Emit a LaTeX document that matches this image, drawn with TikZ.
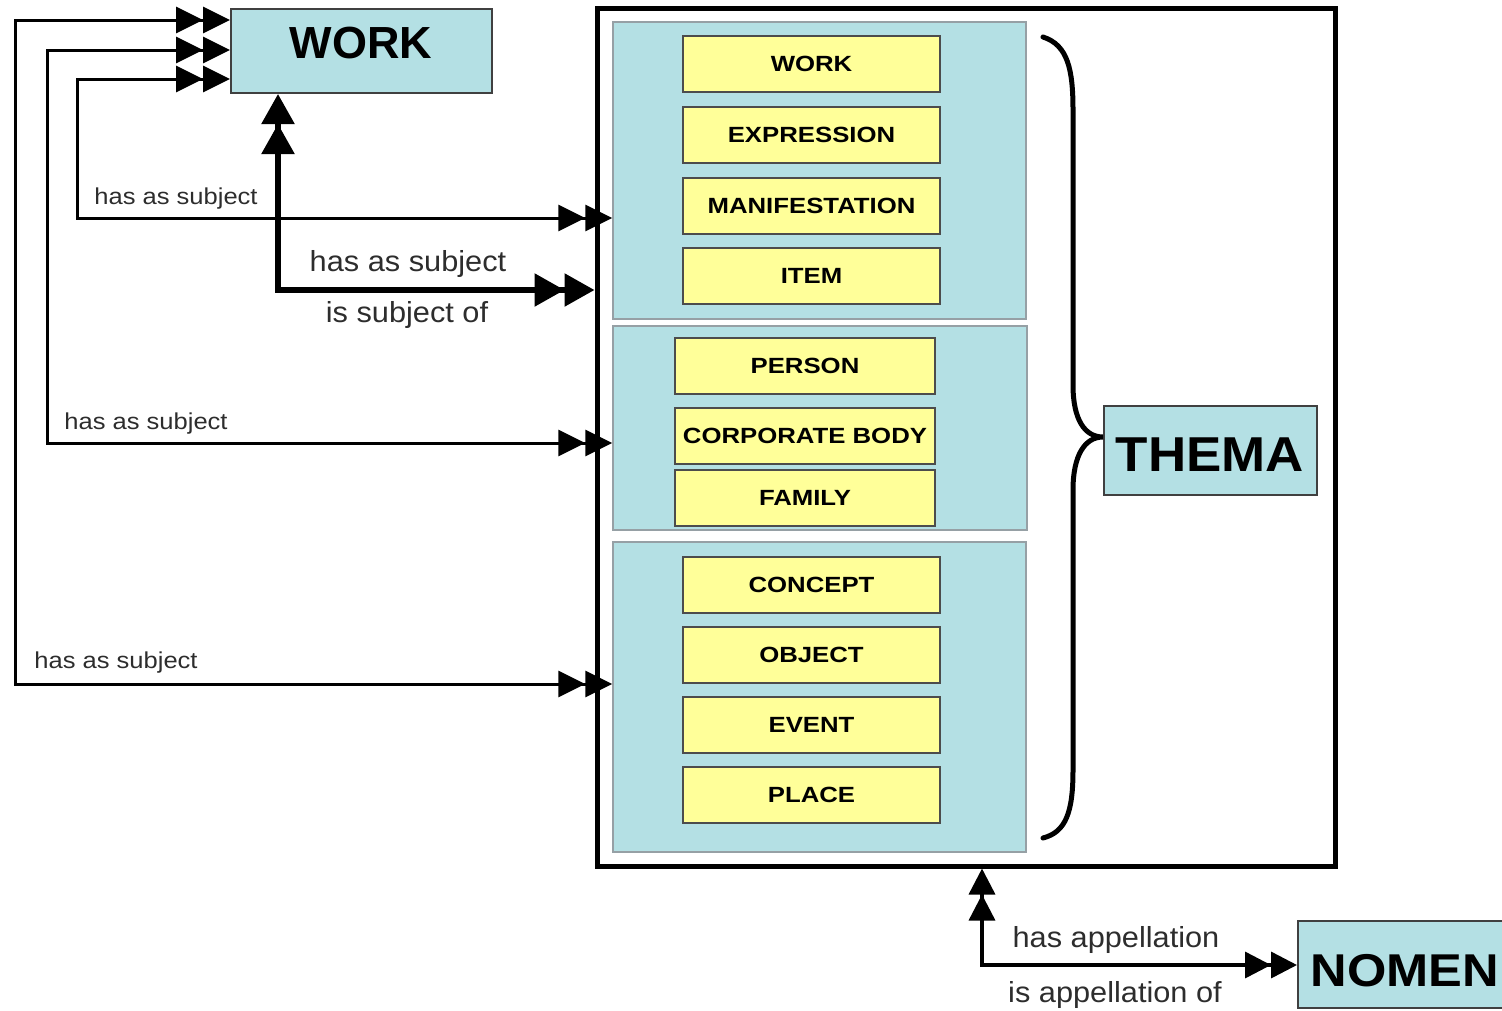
\documentclass[tikz,border=0pt]{standalone}
\usepackage{fontspec}
\usepackage{graphicx}
\setmainfont{Liberation Sans}
\usetikzlibrary{arrows.meta}
\definecolor{boxcyan}{RGB}{180,224,228}
\definecolor{boxyellow}{RGB}{255,255,153}
\definecolor{labelgray}{RGB}{45,45,45}
\definecolor{groupline}{RGB}{150,160,165}
\newcommand{\wx}[2]{\scalebox{#1}[1]{#2}}
\newcommand{\yt}[1]{\wx{1.17}{#1}}
\tikzset{
  tipA/.tip={Triangle[length=27pt,width=26pt] Triangle[length=27pt,width=26pt]},
  tipB/.tip={Triangle[length=30pt,width=32pt] Triangle[length=30pt,width=32pt]},
  tipC/.tip={Triangle[length=26pt,width=26pt] Triangle[length=26pt,width=26pt]},
  cyanbox/.style={draw=black!75, line width=2pt, fill=boxcyan, inner sep=0pt},
  groupbox/.style={draw=groupline, line width=1.5pt, fill=boxcyan, inner sep=0pt, minimum width=413pt},
  outerbox/.style={draw=black, line width=5pt, fill=white, inner sep=0pt},
  ybox/.style={draw=black!70, line width=2pt, fill=boxyellow, inner sep=0pt, minimum height=56pt,
     font=\fontsize{22}{25}\selectfont\bfseries},
  titletext/.style={font=\fontsize{45}{50}\selectfont\bfseries, inner sep=0pt},
  smalllabel/.style={font=\fontsize{23}{26}\selectfont, text=labelgray, inner sep=0pt},
  biglabel/.style={font=\fontsize{29}{32}\selectfont, text=labelgray, inner sep=0pt},
  thinarr/.style={line width=3pt, tipA-tipA},
  thickarr/.style={line width=5.5pt, tipB-tipB},
  midarr/.style={line width=3.5pt, tipC-tipC},
  bracestyle/.style={line width=5pt, line cap=round}
}
\begin{document}
\begin{tikzpicture}[x=1pt,y=-1pt]
\useasboundingbox (0,0) rectangle (1502,1010);
\clip (0,0) rectangle (1502,1010);

% outer frame
\node[outerbox, minimum width=738pt, minimum height=858pt] (outer) at (966,437) {};

% groups
\node[groupbox, minimum height=297pt] (g1) at (819.5,170.5) {};
\node[groupbox, minimum width=414pt, minimum height=204pt] (g2) at (820,428) {};
\node[groupbox, minimum height=310pt] (g3) at (819.5,697) {};

% group 1 entries
\node[ybox, minimum width=257pt] (y1) at (811.5,64) {\yt{WORK}};
\node[ybox, minimum width=257pt] (y2) at (811.5,135) {\yt{EXPRESSION}};
\node[ybox, minimum width=257pt] (y3) at (811.5,205.5) {\yt{MANIFESTATION}};
\node[ybox, minimum width=257pt] (y4) at (811.5,275.5) {\yt{ITEM}};
% group 2 entries
\node[ybox, minimum width=260pt] (y5) at (805,366) {\yt{PERSON}};
\node[ybox, minimum width=260pt] (y6) at (805,436) {\yt{CORPORATE BODY}};
\node[ybox, minimum width=260pt] (y7) at (805,498) {\yt{FAMILY}};
% group 3 entries
\node[ybox, minimum width=257pt] (y8) at (811.5,584.5) {\yt{CONCEPT}};
\node[ybox, minimum width=257pt] (y9) at (811.5,655) {\yt{OBJECT}};
\node[ybox, minimum width=257pt] (y10) at (811.5,725) {\yt{EVENT}};
\node[ybox, minimum width=257pt] (y11) at (811.5,795) {\yt{PLACE}};

% main boxes
\node[cyanbox, minimum width=261pt, minimum height=84pt] (work) at (361.5,51) {};
\node[titletext] (worktext) at (361,43) {WORK};
\node[cyanbox, minimum width=213pt, minimum height=89pt] (thema) at (1210.5,450.5) {};
\node[titletext, font=\fontsize{49}{54}\selectfont\bfseries] (thematext) at (1210,455) {\wx{1.08}{THEMA}};
\node[cyanbox, minimum width=212pt, minimum height=87pt] (nomen) at (1404,964.5) {};
\node[titletext, font=\fontsize{46}{50}\selectfont\bfseries] (nomentext) at (1405,971) {\wx{1.1}{NOMEN}};

% brace
\coordinate (brtop) at (1043,37);
\coordinate (brtip) at (1103,437);
\coordinate (brbot) at (1043,838);
\draw[bracestyle] (brtop) .. controls (1068,45) and (1073,70) .. (1073,110)
  -- (1073,385) .. controls (1073,420) and (1085,437) .. (brtip)
  .. controls (1085,437) and (1073,455) .. (1073,490)
  -- (1073,770) .. controls (1073,812) and (1066,832) .. (brbot);

% left connectors
\coordinate (cA) at (15,20);
\coordinate (yA) at (15,684);
\coordinate (cB) at (47,50);
\coordinate (yB) at (47,443);
\coordinate (cC) at (77,79);
\coordinate (yC) at (77,218);
\draw[thinarr] (work.west |- cA) -- (cA) -- (yA) -- (g3.west |- yA);
\draw[thinarr] (work.west |- cB) -- (cB) -- (yB) -- (g2.west |- yB);
\draw[thinarr] (work.west |- cC) -- (cC) -- (yC) -- (g1.west |- yC);

% thick connector
\coordinate (tk) at (278,290);
\draw[thickarr] (work.south -| tk) -- (tk) -- (outer.west |- tk);

% bottom connector
\coordinate (bt) at (982,965);
\draw[midarr] (outer.south -| bt) -- (bt) -- (nomen.west |- bt);

% labels
\node[smalllabel] (lC) at (176,199) {\wx{1.11}{has as subject}};
\node[smalllabel] (lB) at (146,424) {\wx{1.11}{has as subject}};
\node[smalllabel] (lA) at (116,663) {\wx{1.11}{has as subject}};
\node[biglabel] (l1) at (408,264) {\wx{1.06}{has as subject}};
\node[biglabel] (l2) at (407,315) {\wx{1.06}{is subject of}};
\node[biglabel] (l3) at (1116,940) {\wx{1.06}{has appellation}};
\node[biglabel] (l4) at (1115,995) {\wx{1.06}{is appellation of}};
\end{tikzpicture}
\end{document}
